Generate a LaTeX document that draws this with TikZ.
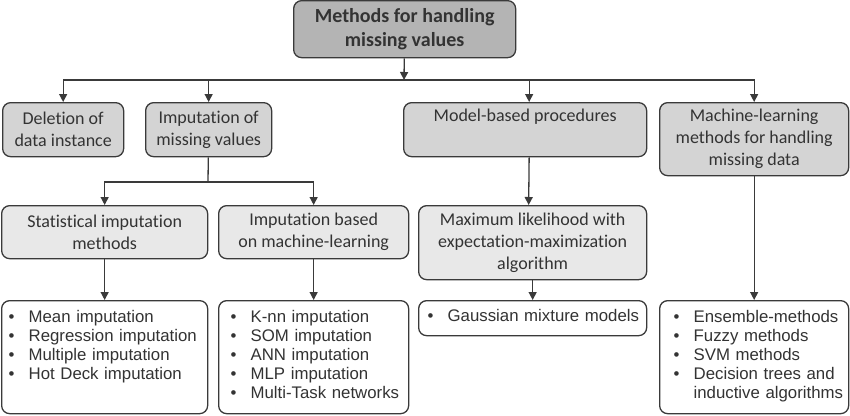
\documentclass[tikz,border=0pt]{standalone}
\usepackage{fontspec}
\setmainfont{Carlito}[Ligatures={NoCommon}]
\newfontfamily\arialfont{Liberation Sans}
\usepackage{xcolor}
\usepackage{tikz}
\usetikzlibrary{arrows.meta,positioning,calc}
\definecolor{boxline}{HTML}{3A3A3A}
\definecolor{txtgray}{HTML}{333333}
\definecolor{levelA}{HTML}{B4B4B4}
\definecolor{levelB}{HTML}{D4D4D4}
\definecolor{levelC}{HTML}{E8E8E8}
\newcommand{\bitem}[1]{\mbox{\makebox[20pt][l]{\textbullet}#1\strut}}
\tikzset{
	box/.style={draw=boxline, line width=1.3pt, rounded corners=8pt, anchor=north west,
		inner sep=0pt, align=center, text=txtgray, font=\fontsize{18}{22}\selectfont},
	topbox/.style={box, fill=levelA, font=\fontsize{20}{24}\selectfont\bfseries},
	midbox/.style={box, fill=levelB},
	lowbox/.style={box, fill=levelC},
	listbox/.style={box, fill=white, align=left, inner ysep=0pt,
		font=\arialfont\fontsize{16.8}{19}\selectfont},
	link/.style={draw=boxline, line width=1.3pt},
	arr/.style={-{Triangle[length=8pt,width=8pt]}}
}
\begin{document}
\begin{tikzpicture}[x=1pt,y=-1pt]
		\useasboundingbox (0,0) rectangle (850,415);
		% root
		\node[topbox, minimum width=222, minimum height=57] (root) at (293,0) {Methods for handling\\missing values};
		% first level
		\node[midbox, minimum width=121, minimum height=54] (del) at (2,102) {Deletion of\\data instance};
		\node[midbox, minimum width=126, minimum height=54] (imp) at (145,102) {Imputation of\\missing values};
		\node[midbox, minimum width=243, minimum height=54] (mod) at (403,102) {Model-based procedures\\\strut};
		\node[midbox, minimum width=189, minimum height=73] (mlm) at (659,102) {Machine-learning\\methods for handling\\missing data};
		% second level
		\node[lowbox, minimum width=206, minimum height=53] (stat) at (1,205) {Statistical imputation\\methods};
		\node[lowbox, minimum width=190, minimum height=53] (iml) at (218,205) {Imputation based\\on machine-learning};
		\node[lowbox, minimum width=228, minimum height=74] (mlik) at (418,205) {Maximum likelihood with\\expectation-maximization\\algorithm};
		% lists
		\node[listbox, minimum width=206, minimum height=113, inner xsep=7pt, text width=192pt] (statl) at (1,300)
			{\bitem{Mean imputation}\\\bitem{Regression imputation}\\\bitem{Multiple imputation}\\\bitem{Hot Deck imputation}\\\strut};
		\node[listbox, minimum width=190, minimum height=113, inner xsep=12pt, text width=166pt] (imll) at (218,300)
			{\bitem{K-nn imputation}\\\bitem{SOM imputation}\\\bitem{ANN imputation}\\\bitem{MLP imputation}\\\bitem{Multi-Task networks}};
		\node[listbox, minimum width=228, minimum height=35, inner xsep=9pt, text width=210pt] (gmm) at (418,300)
			{\bitem{Gaussian mixture models}};
		\node[listbox, minimum width=189, minimum height=113, inner xsep=14pt, text width=161pt] (ens) at (659,300)
			{\bitem{Ensemble-methods}\\\bitem{Fuzzy methods}\\\bitem{SVM methods}\\\bitem{Decision trees and}\\\mbox{\makebox[20pt]{}inductive algorithms\strut}};
		% connectors
		\coordinate (j1) at (404,80);
		\coordinate (j2) at (208,182);
		\draw[link][arr] (root) -- (j1);
		\draw[link][arr] (j1) -| (del);
		\draw[link][arr] (j1) -| (imp);
		\draw[link][arr] (j1) -| ([xshift=4pt]mod.north);
		\draw[link][arr] (j1) -| (mlm);
		\draw[link] (imp) -- (j2);
		\draw[link][arr] (j2) -| (stat);
		\draw[link][arr] (j2) -| (iml);
		\draw[link][arr] ([xshift=4pt]mod.south) -- ([xshift=-4pt]mlik.north);
		\draw[link][arr] (stat) -- (statl);
		\draw[link][arr] (iml) -- (imll);
		\draw[link][arr] (mlik) -- (gmm);
		\draw[link][arr] (mlm) -- (ens);
	\end{tikzpicture}
\end{document}
